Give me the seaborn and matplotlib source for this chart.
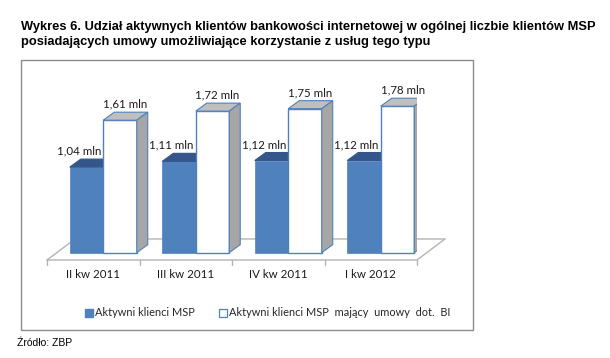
import numpy as np
import pandas as pd
import matplotlib.pyplot as plt
import seaborn as sns
from matplotlib.patches import Polygon, Rectangle
from matplotlib.lines import Line2D

# Data
kwartaly = ['II kw 2011', 'III kw 2011', 'IV kw 2011', 'I kw 2012']
aktywni = [1.04, 1.11, 1.12, 1.12]
aktywni_umowy = [1.61, 1.72, 1.75, 1.78]
serie = ['Aktywni klienci MSP', 'Aktywni klienci MSP  mający  umowy  dot.  BI']

df = pd.DataFrame({
    'kwartal': kwartaly * 2,
    'wartosc': aktywni + aktywni_umowy,
    'seria': [serie[0]] * 4 + [serie[1]] * 4,
})

BLUE = '#4F81BD'
BLUE_TOP = '#34568A'
GRAY_SIDE = '#A6A6A6'
GRAY_TOP = '#BFBFBF'
FLOOR = '#B4B4B4'
LABEL_FONT = ['Lato', 'DejaVu Sans']

sns.set_theme(style='white')
plt.rcParams['font.family'] = LABEL_FONT

fig = plt.figure(figsize=(6.1, 3.58), dpi=100)
W, H = 610, 358

# chart frame
fig.patches.append(Rectangle((21 / W, 1 - 330 / H), 452 / W, 270 / H,
                             transform=fig.transFigure, fill=False,
                             edgecolor='#8C8C8C', linewidth=1.0))

ax = fig.add_axes([47 / W, 1 - 260 / H, 370 / W, 190 / H])
ax.patch.set_alpha(0)

sns.barplot(data=df, x='kwartal', y='wartosc', hue='seria',
            palette=[BLUE, 'white'], width=0.724, ax=ax, legend=False,
            saturation=1)

ymin = -0.089
ax.set_xlim(-0.5, 3.5)
ax.set_ylim(ymin, 2.22)

px_x = 370 / 4.0      # pixels per category
px_y = 82.2           # pixels per unit
shift = 10 / px_x
dx = 11 / px_x
dy = 8 / px_y

bars = [p for p in ax.patches if p.get_height() > 0]
bars.sort(key=lambda p: p.get_x())
for i, p in enumerate(bars):
    p.set_x(p.get_x() + shift)
    x0 = p.get_x()
    x1 = x0 + p.get_width()
    h = p.get_height()
    white = (i % 2 == 1)
    z = 3 if white else 2
    p.set_zorder(z)
    p.set_edgecolor(BLUE)
    p.set_linewidth(1.0 if white else 0.5)
    top = Polygon([(x0, h), (x1, h), (x1 + dx, h + dy), (x0 + dx, h + dy)],
                  closed=True, facecolor=GRAY_TOP if white else BLUE_TOP,
                  edgecolor=BLUE if white else BLUE_TOP, linewidth=0.8,
                  zorder=z)
    ax.add_patch(top)
    if white:
        side = Polygon([(x1, 0), (x1, h), (x1 + dx, h + dy), (x1 + dx, dy)],
                       closed=True, facecolor=GRAY_SIDE, edgecolor=BLUE,
                       linewidth=0.8, zorder=z)
        ax.add_patch(side)
    txt = f'{h:.2f}'.replace('.', ',') + ' mln'
    cx = (x0 + x1) / 2 + (0.055 if white else -0.08)
    ax.annotate(txt, (cx, h), xytext=(0, 16), textcoords='offset pixels',
                ha='center', va='center', fontsize=8.3, color='#1A1A1A',
                family=LABEL_FONT, zorder=5)

# floor
fdx = 28 / px_x
fdy = 21 / px_y
back = ymin + fdy
ax.plot([-0.5, 3.5, 3.5 + fdx], [ymin, ymin, back], color=FLOOR, lw=1,
        clip_on=False, zorder=1)
ax.plot([-0.5, -0.5 + fdx, 3.5 + fdx], [ymin, back, back], color=FLOOR,
        lw=1, clip_on=False, zorder=1)
for t in np.arange(-0.5, 4.0, 1.0):
    ax.plot([t, t], [ymin, ymin - 5 / px_y], color=FLOOR, lw=1,
            clip_on=False, zorder=1)

sns.despine(ax=ax, left=True, bottom=True)
ax.set_yticks([])
ax.set_xlabel('')
ax.set_ylabel('')
ax.set_xticks(range(len(kwartaly)))
ax.set_xticklabels(kwartaly, fontsize=8.3, color='#1A1A1A', family=LABEL_FONT)
ax.tick_params(axis='x', length=0, pad=6.5)

# legend
handles = [
    Line2D([], [], marker='s', linestyle='', markersize=5.5,
           markerfacecolor=BLUE, markeredgecolor=BLUE),
    Line2D([], [], marker='s', linestyle='', markersize=5.5,
           markerfacecolor='white', markeredgecolor=BLUE, markeredgewidth=0.9),
]
fig.legend(handles, serie, loc='center', ncol=2, frameon=False,
           bbox_to_anchor=(268 / W, 1 - 313 / H),
           handlelength=0.6, handletextpad=0.3, columnspacing=2.2,
           prop={'family': LABEL_FONT, 'size': 7.9})

title_font = ['Liberation Sans Narrow', 'Liberation Sans', 'DejaVu Sans']
fig.text(21 / W, 1 - 27 / H,
         'Wykres 6. Udział aktywnych klientów bankowości internetowej w ogólnej liczbie klientów MSP',
         ha='left', va='center', fontsize=9.3, fontweight='bold',
         family=title_font, color='black')
fig.text(21 / W, 1 - 42 / H,
         'posiadających umowy umożliwiające korzystanie z usług tego typu',
         ha='left', va='center', fontsize=9.3, fontweight='bold',
         family=title_font, color='black')
fig.text(17 / W, 1 - 343 / H, 'Źródło: ZBP', ha='left', va='center',
         fontsize=7.5, family=['Liberation Sans', 'DejaVu Sans'], color='black')

fig.savefig('out.png', dpi=100)
